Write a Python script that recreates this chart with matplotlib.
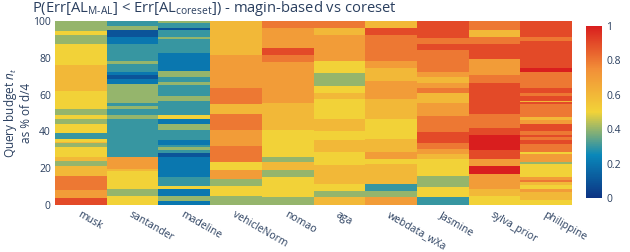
import numpy as np
import matplotlib
matplotlib.use("Agg")
import matplotlib.pyplot as plt
from matplotlib.colors import LinearSegmentedColormap

plt.rcParams['font.family'] = ['Open Sans', 'DejaVu Sans']
plt.rcParams['mathtext.fontset'] = 'custom'
plt.rcParams['mathtext.rm'] = 'Open Sans'
plt.rcParams['mathtext.it'] = 'Open Sans:italic'

datasets = ['musk', 'santander', 'madeline', 'vehicleNorm', 'nomao', 'aga',
            'webdata_wXa', 'Jasmine', 'sylva_prior', 'philippine']

# budget boundaries (top -> bottom) and probability value of each band
musk_edges = [100, 94.6, 92.4, 87.5, 76.1, 62.0, 52.3, 49.0, 46.8, 43.9, 39.1,
              35.8, 34.5, 33.8, 31.3, 25.9, 24.1, 21.0, 15.9, 8.1, 3.6, 0]
musk_vals = [0.4, 0.5, 0.4, 0.5, 0.6, 0.5, 0.4, 0.5, 0.4, 0.5, 0.3,
             0.5, 0.6, 0.4, 0.5, 0.6, 0.4, 0.6, 0.8, 0.7, 0.9]

santander_edges = [100, 97.5, 94.9, 91.5, 87.3, 78.3, 76.6, 72.5, 70.9, 68.4, 65.6,
                   55.3, 53.9, 52.1, 49.0, 46.8, 25.9, 19.7, 18.3, 8.9, 5.1, 0]
santander_vals = [0.3, 0.4, 0.1, 0.2, 0.3, 0.4, 0.3, 0.2, 0.1, 0.2,
                  0.4, 0.3, 0.4, 0.3, 0.4, 0.3, 0.7, 0.6, 0.5, 0.4, 0.5]

madeline_edges = [100, 98.7, 96.4, 94.9, 91.5, 90.2, 82.5, 72.9, 69.8, 66.7,
                  65.3, 59.0, 56.6, 49.0, 46.8, 43.9, 40.9, 35.4, 32.7, 31.3,
                  30.0, 28.2, 25.9, 15.0, 10.1, 8.9, 4.7, 2.4, 0]
madeline_vals = [0.4, 0.3, 0.1, 0.3, 0.4, 0.3, 0.2, 0.4, 0.3, 0.4,
                 0.3, 0.4, 0.3, 0.5, 0.2, 0.4, 0.3, 0.2, 0.3, 0.4,
                 0.3, 0.1, 0.2, 0.3, 0.5, 0.2, 0.4, 0.2]

vehicle_edges = [100, 81.6, 63.5, 54.8, 49.4, 40.9, 32.2, 23.3, 19.2, 14.3, 10.1, 4.7, 0]
vehicle_vals = [0.6, 0.7, 0.8, 0.6, 0.8, 0.7, 0.8, 0.5, 0.7, 0.4, 0.5, 0.4]

nomao_edges = [100, 96.4, 85.2, 81.6, 77.6, 55.3, 40.9, 25.9, 23.3, 19.2, 15.2, 4.3, 0]
nomao_vals = [0.8, 0.7, 0.9, 0.8, 0.7, 0.6, 0.5, 0.4, 0.6, 0.4, 0.5, 0.4]

aga_edges = [100, 96.0, 92.4, 78.3, 71.6, 64.7, 60.8, 57.5, 46.8, 40.3, 35.4,
             28.8, 21.9, 11.4, 7.8, 4.3, 0]
aga_vals = [0.8, 0.6, 0.7, 0.5, 0.4, 0.5, 0.6, 0.5, 0.6, 0.5, 0.6, 0.5, 0.6, 0.5, 0.4, 0.6]

webdata_edges = [100, 96.0, 92.4, 78.3, 74.7, 67.5, 57.5, 46.8, 36.0, 28.8, 25.1,
                 22.2, 11.4, 7.8, 4.3, 0]
webdata_vals = [0.6, 0.9, 0.8, 0.7, 0.6, 0.7, 0.6, 0.5, 0.6, 0.7, 0.5, 0.6, 0.3, 0.4, 0.7]

jasmine_edges = [100, 91.0, 87.3, 84.4, 72.3, 69.6, 66.4, 63.8, 60.6, 55.2, 48.3,
                 39.8, 33.8, 30.7, 27.7, 24.8, 15.7, 9.9, 4.5, 0]
jasmine_vals = [0.9, 0.8, 0.9, 0.8, 0.7, 0.6, 0.7, 0.8, 0.6, 0.7, 0.8,
                0.9, 0.8, 0.7, 0.6, 0.5, 0.4, 0.5, 0.3]

sylva_edges = [100, 95.1, 91.5, 87.3, 79.4, 70.7, 66.2, 49.4, 41.8, 37.8, 30.0,
               25.1, 21.0, 16.8, 8.9, 4.7, 0]
sylva_vals = [0.8, 0.6, 0.8, 0.9, 0.7, 0.8, 0.9, 0.8, 0.9, 1.0, 0.9, 0.7, 1.0, 0.7, 0.6, 0.5]

philippine_edges = [100, 91.5, 89.2, 74.7, 72.2, 63.5, 60.8, 59.5, 56.6, 55.9,
                    54.8, 47.6, 46.1, 43.9, 40.0, 38.2, 36.7, 35.4, 33.1, 28.8,
                    27.7, 23.3, 22.2, 15.0, 13.7, 12.5, 10.7, 8.9, 7.1, 2.9, 0]
philippine_vals = [0.9, 0.8, 0.9, 1.0, 0.8, 0.9, 0.8, 0.9, 0.6, 0.9,
                   0.8, 0.6, 0.7, 0.9, 0.8, 0.9, 0.8, 0.9, 0.8, 0.5,
                   0.7, 0.4, 0.5, 0.7, 0.8, 0.6, 0.5, 0.7, 0.6, 0.5]

columns = [(musk_edges, musk_vals), (santander_edges, santander_vals),
           (madeline_edges, madeline_vals), (vehicle_edges, vehicle_vals),
           (nomao_edges, nomao_vals), (aga_edges, aga_vals),
           (webdata_edges, webdata_vals), (jasmine_edges, jasmine_vals),
           (sylva_edges, sylva_vals), (philippine_edges, philippine_vals)]

# plotly "Portland" colorscale
portland = LinearSegmentedColormap.from_list(
    'portland', [(0, '#0c3383'), (0.25, '#0a88ba'), (0.5, '#f2d338'),
                 (0.75, '#f28f38'), (1, '#d91e1e')])

txt = '#2a3f5f'
fig = plt.figure(figsize=(6.3, 2.52), dpi=100)
ax = fig.add_axes([55 / 630, 1 - 205 / 252, 517 / 630, 184 / 252])

mesh = None
for i, (edges, vals) in enumerate(columns):
    mesh = ax.pcolormesh([i - 0.5, i + 0.5], edges, np.array(vals)[:, None],
                         cmap=portland, vmin=0, vmax=1, shading='flat',
                         edgecolors='none', antialiased=False)

ax.set_xlim(-0.5, len(datasets) - 0.5)
ax.set_ylim(0, 100)
ax.set_xticks(range(len(datasets)))
ax.set_xticklabels(datasets, rotation=-30, ha='left', va='top',
                   rotation_mode='anchor', fontsize=6.8, color=txt)
ax.set_yticks([0, 20, 40, 60, 80, 100])
ax.tick_params(axis='both', length=0, labelsize=7.5, labelcolor=txt)
ax.tick_params(axis='x', pad=3)
ax.tick_params(axis='y', pad=3)
for s in ax.spines.values():
    s.set_visible(False)

ax.set_ylabel('Query budget $n_t$\nas % of d/4', fontsize=8.5, color=txt,
              linespacing=1.1)
ax.yaxis.set_label_coords(-0.042, 0.5)

fig.text(0.05, 1 - 9 / 252,
         r'P(Err[AL$_{\text{M-AL}}$] < Err[AL$_{\text{coreset}}$]) - magin-based vs coreset',
         fontsize=10.6, color=txt, ha='left', va='center')

cax = fig.add_axes([586 / 630, 1 - 198 / 252, 16 / 630, 172 / 252])
cb = fig.colorbar(mesh, cax=cax)
cb.outline.set_visible(False)
cb.set_ticks([0, 0.2, 0.4, 0.6, 0.8, 1])
cb.set_ticklabels(['0', '0.2', '0.4', '0.6', '0.8', '1'])
cax.tick_params(length=0, labelsize=7.5, labelcolor=txt, pad=3)

fig.savefig('out.png', dpi=100)
